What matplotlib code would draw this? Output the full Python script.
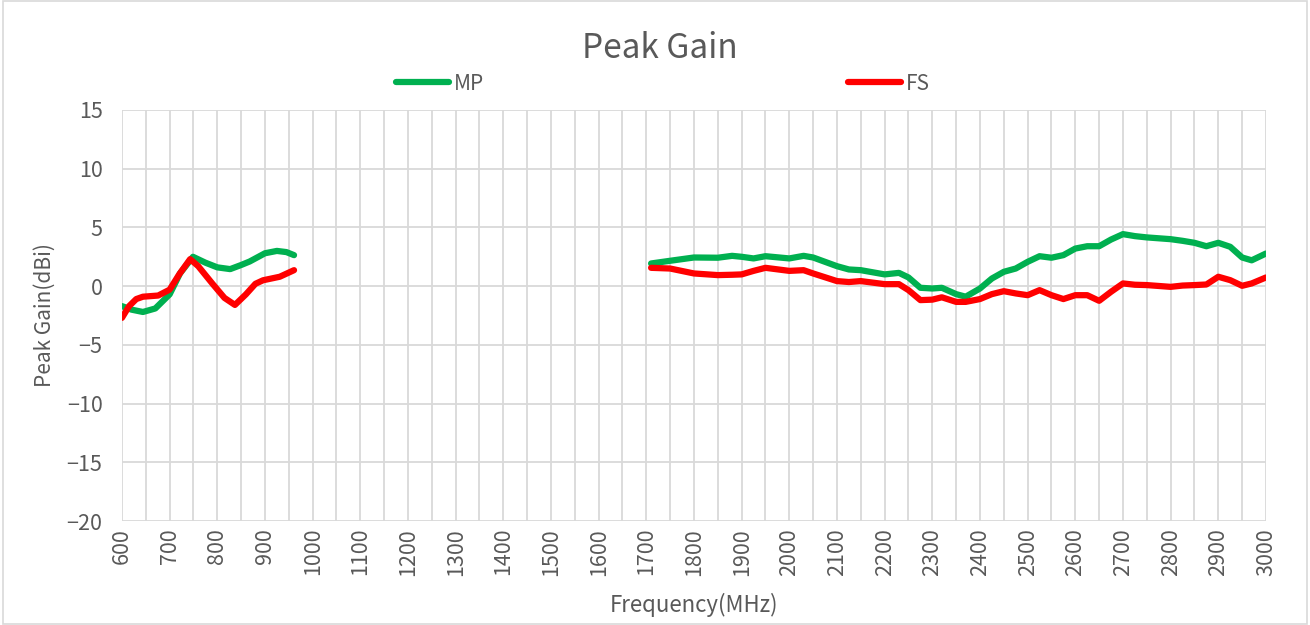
import matplotlib
matplotlib.use("Agg")
import matplotlib.pyplot as plt
import numpy as np

plt.rcParams['font.family'] = ['Noto Sans CJK SC', 'DejaVu Sans']

# low band (MHz / dBi)
f_low_mp = [600, 620, 644, 670, 700, 722, 749, 775, 800, 827, 850, 868, 900, 925, 945, 961]
mp_low = [-1.7, -2.0, -2.2, -1.9, -0.7, 1.1, 2.5, 2.0, 1.6, 1.45, 1.8, 2.1, 2.8, 3.0, 2.9, 2.64]
f_low_fs = [600, 615, 630, 644, 676, 700, 720, 743, 760, 790, 815, 837, 860, 880, 896, 931, 961]
fs_low = [-2.7, -1.7, -1.1, -0.9, -0.8, -0.3, 1.0, 2.3, 1.7, 0.2, -1.0, -1.6, -0.7, 0.2, 0.5, 0.8, 1.36]

# high band
f_high = [1710, 1750, 1800, 1850, 1880, 1900, 1925, 1950, 2000, 2030, 2050, 2100, 2125, 2150,
          2200, 2230, 2250, 2275, 2300, 2320, 2350, 2370, 2400, 2425, 2450, 2475, 2500, 2525,
          2550, 2575, 2600, 2625, 2650, 2675, 2700, 2725, 2750, 2800, 2825, 2850, 2875, 2900,
          2925, 2950, 2970, 3000]
mp_high = [1.93, 2.16, 2.44, 2.42, 2.58, 2.5, 2.36, 2.55, 2.36, 2.58, 2.44, 1.7, 1.42, 1.36,
           1.0, 1.13, 0.74, -0.14, -0.2, -0.14, -0.68, -0.9, -0.2, 0.65, 1.22, 1.5, 2.07, 2.55,
           2.42, 2.64, 3.2, 3.4, 3.4, 3.97, 4.43, 4.26, 4.15, 4.0, 3.86, 3.69, 3.4, 3.69,
           3.35, 2.44, 2.2, 2.78]
fs_high = [1.56, 1.5, 1.08, 0.94, 0.97, 1.0, 1.3, 1.56, 1.3, 1.36, 1.08, 0.43, 0.35, 0.43,
           0.17, 0.17, -0.34, -1.19, -1.15, -0.95, -1.34, -1.34, -1.1, -0.68, -0.43, -0.62, -0.77, -0.34,
           -0.77, -1.1, -0.77, -0.77, -1.25, -0.48, 0.23, 0.12, 0.09, -0.06, 0.05, 0.09, 0.14, 0.8,
           0.51, 0.03, 0.23, 0.74]

green = '#00B050'
red = '#FF0000'
grey = '#595959'

fig = plt.figure(figsize=(13.1, 6.25), dpi=100)
ax = fig.add_axes([0.0931, 0.1664, 0.8733, 0.6576])

ax.plot(f_low_mp, mp_low, color=green, lw=4.5, solid_capstyle='round', solid_joinstyle='round', label='MP')
ax.plot(f_high, mp_high, color=green, lw=4.5, solid_capstyle='round', solid_joinstyle='round')
ax.plot(f_low_fs, fs_low, color=red, lw=4.5, solid_capstyle='round', solid_joinstyle='round', label='FS')
ax.plot(f_high, fs_high, color=red, lw=4.5, solid_capstyle='round', solid_joinstyle='round')

ax.set_xlim(600, 3000)
ax.set_ylim(-20, 15)
ax.set_xticks(np.arange(600, 3001, 100))
ax.set_xticks(np.arange(600, 3001, 50), minor=True)
ax.set_yticks(np.arange(-20, 16, 5))
ax.grid(True, which='both', axis='x', color='#d9d9d9', lw=1.3)
ax.grid(True, which='major', axis='y', color='#d9d9d9', lw=1.3)
ax.set_axisbelow(True)
for s in ax.spines.values():
    s.set_visible(False)
ax.tick_params(which='both', length=0, labelsize=15.5, colors=grey)
ax.tick_params(axis='x', rotation=90, pad=5)
ax.tick_params(axis='y', pad=14)
ax.set_xlabel('Frequency(MHz)', fontsize=16, color=grey)
ax.xaxis.set_label_coords(0.5, -0.205)
ax.xaxis.label.set_va('center')
ax.set_ylabel('Peak Gain(dBi)', fontsize=15, color=grey, labelpad=8)

fig.text(0.504, 0.922, 'Peak Gain', fontsize=24, color=grey, ha='center', va='center')
leg = fig.legend(loc='center', bbox_to_anchor=(0.506, 0.866), ncol=2, frameon=False,
                 fontsize=15, handlelength=2.55, handletextpad=0.2, columnspacing=17.5)
for t in leg.get_texts():
    t.set_color(grey)

fig.patches.append(plt.Rectangle((0.002, 0.002), 0.996, 0.996, transform=fig.transFigure,
                                 fill=False, edgecolor='#d9d9d9', lw=1.2))

fig.savefig('out.png', dpi=100)
